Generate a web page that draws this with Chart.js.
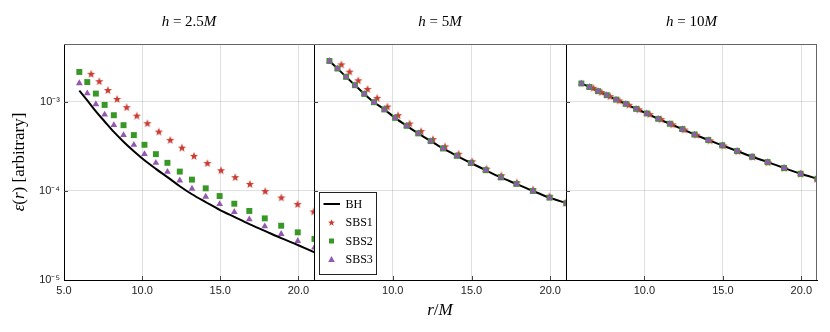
<!DOCTYPE html>
<html lang="en">
<head>
  <meta charset="UTF-8">
  <title>Energy flux vs r/M</title>
  <script src="https://cdn.jsdelivr.net/npm/chart.js"></script>
  <style>
    body { margin: 0; background: #fff; }
    #wrap { position: relative; width: 830px; height: 332px; }
    #wrap canvas { position: absolute; left: 0; top: 0; }
  </style>
</head>
<body>
<div id="wrap">
  <canvas id="p1" width="830" height="332"></canvas>
  <canvas id="p2" width="830" height="332"></canvas>
  <canvas id="p3" width="830" height="332"></canvas>
</div>
<script>
// tick values / labels
const xTicksFirst = [5, 10, 15, 20];
const xTicksRest = [10, 15, 20];
const yTicks = [1e-5, 1e-4, 1e-3];
const yTickLabels = ['10⁻⁵', '10⁻⁴', '10⁻³'];

// radii where BH / SBS2 / SBS3 points sit, and where SBS1 points sit
const rGrid = [5.98, 6.49, 7.04, 7.60, 8.19, 8.81, 9.47, 10.15, 10.88, 11.62, 12.41, 13.19, 14.07, 14.96, 15.90, 16.86, 17.85, 18.90, 19.96, 21.03];
const rStar = [6.74, 7.26, 7.81, 8.40, 9.01, 9.66, 10.34, 11.07, 11.80, 12.55, 13.32, 14.18, 15.05, 15.96, 16.90, 17.88, 18.91, 19.95, 20.98];

// h = 2.5M
const bh25 = [1.34e-3, 1.04e-3, 7.83e-4, 6.03e-4, 4.60e-4, 3.57e-4, 2.79e-4, 2.21e-4, 1.77e-4, 1.43e-4, 1.13e-4, 9.18e-5, 7.50e-5, 6.14e-5, 5.11e-5, 4.24e-5, 3.56e-5, 2.95e-5, 2.47e-5, 2.05e-5];
const sbs1_25 = [2.07e-3, 1.71e-3, 1.36e-3, 1.08e-3, 8.73e-4, 7.02e-4, 5.77e-4, 4.65e-4, 3.75e-4, 3.07e-4, 2.48e-4, 2.06e-4, 1.71e-4, 1.43e-4, 1.20e-4, 9.98e-5, 8.46e-5, 7.13e-5, 5.89e-5];
const sbs2_25 = [2.17e-3, 1.67e-3, 1.24e-3, 9.25e-4, 7.09e-4, 5.48e-4, 4.24e-4, 3.30e-4, 2.59e-4, 2.07e-4, 1.65e-4, 1.34e-4, 1.07e-4, 8.77e-5, 7.19e-5, 5.96e-5, 4.92e-5, 4.07e-5, 3.43e-5, 2.89e-5];
const sbs3_25 = [1.62e-3, 1.25e-3, 9.42e-4, 7.21e-4, 5.48e-4, 4.24e-4, 3.30e-4, 2.59e-4, 2.07e-4, 1.64e-4, 1.31e-4, 1.06e-4, 8.61e-5, 7.13e-5, 5.80e-5, 4.79e-5, 4.00e-5, 3.29e-5, 2.74e-5, 2.31e-5];

// h = 5M (BH, SBS2, SBS3 sit on top of each other)
const bh5 = [2.88e-3, 2.37e-3, 1.91e-3, 1.54e-3, 1.23e-3, 9.93e-4, 8.23e-4, 6.62e-4, 5.39e-4, 4.43e-4, 3.63e-4, 3.0e-4, 2.48e-4, 2.06e-4, 1.71e-4, 1.42e-4, 1.20e-4, 1.00e-4, 8.41e-5, 7.28e-5];
const sbs1_5 = [2.64e-3, 2.19e-3, 1.75e-3, 1.40e-3, 1.11e-3, 8.88e-4, 7.10e-4, 5.73e-4, 4.70e-4, 3.82e-4, 3.17e-4, 2.62e-4, 2.15e-4, 1.78e-4, 1.50e-4, 1.25e-4, 1.04e-4, 8.73e-5, 7.40e-5];
const sbs2_5 = [2.88e-3, 2.37e-3, 1.91e-3, 1.54e-3, 1.23e-3, 9.93e-4, 8.23e-4, 6.62e-4, 5.39e-4, 4.43e-4, 3.63e-4, 3.0e-4, 2.48e-4, 2.06e-4, 1.71e-4, 1.42e-4, 1.20e-4, 1.00e-4, 8.41e-5, 7.28e-5];
const sbs3_5 = [2.88e-3, 2.37e-3, 1.91e-3, 1.54e-3, 1.23e-3, 9.93e-4, 8.23e-4, 6.62e-4, 5.39e-4, 4.43e-4, 3.63e-4, 3.0e-4, 2.48e-4, 2.06e-4, 1.71e-4, 1.42e-4, 1.20e-4, 1.00e-4, 8.41e-5, 7.28e-5];

// h = 10M
const bh10 = [1.61e-3, 1.47e-3, 1.32e-3, 1.19e-3, 1.06e-3, 9.50e-4, 8.35e-4, 7.42e-4, 6.45e-4, 5.68e-4, 4.95e-4, 4.30e-4, 3.73e-4, 3.25e-4, 2.81e-4, 2.42e-4, 2.11e-4, 1.81e-4, 1.56e-4, 1.37e-4];
const sbs1_10 = [1.44e-3, 1.29e-3, 1.16e-3, 1.04e-3, 9.3e-4, 8.25e-4, 7.3e-4, 6.4e-4, 5.6e-4, 4.9e-4, 4.28e-4, 3.7e-4, 3.24e-4, 2.8e-4, 2.42e-4, 2.1e-4, 1.81e-4, 1.56e-4, 1.37e-4];
const sbs2_10 = [1.61e-3, 1.47e-3, 1.32e-3, 1.19e-3, 1.06e-3, 9.50e-4, 8.35e-4, 7.42e-4, 6.45e-4, 5.68e-4, 4.95e-4, 4.30e-4, 3.73e-4, 3.25e-4, 2.81e-4, 2.42e-4, 2.11e-4, 1.81e-4, 1.56e-4, 1.37e-4];
const sbs3_10 = [1.61e-3, 1.47e-3, 1.32e-3, 1.19e-3, 1.06e-3, 9.50e-4, 8.35e-4, 7.42e-4, 6.45e-4, 5.68e-4, 4.95e-4, 4.30e-4, 3.73e-4, 3.25e-4, 2.81e-4, 2.42e-4, 2.11e-4, 1.81e-4, 1.56e-4, 1.37e-4];

const RED = '#cb3c33', GREEN = '#389826', PURPLE = '#9558b2';
const GRID = 'rgba(0,0,0,0.12)';

function drawStar(ctx, cx, cy, R, r, color) {
  ctx.beginPath();
  for (let i = 0; i < 10; i++) {
    const a = -Math.PI / 2 + i * Math.PI / 5;
    const rad = i % 2 ? r : R;
    ctx.lineTo(cx + rad * Math.cos(a), cy + rad * Math.sin(a));
  }
  ctx.closePath();
  ctx.fillStyle = color;
  ctx.fill();
}

// filled five point star as a point image
const starImg = document.createElement('canvas');
starImg.width = 10; starImg.height = 10;
drawStar(starImg.getContext('2d'), 5, 5.4, 4.3, 1.85, RED);

function pts(xs, ys) {
  return xs.map((x, i) => ({ x: x, y: ys[i] }));
}

// math style text, parts = [[text, italic], ...]
function drawMath(ctx, parts, x, y, size, angle) {
  ctx.save();
  ctx.translate(x, y);
  ctx.rotate(angle || 0);
  const fonts = parts.map(p => (p[1] ? 'italic ' : '') + size + 'px "Liberation Serif"');
  let total = 0;
  parts.forEach((p, i) => { ctx.font = fonts[i]; total += ctx.measureText(p[0]).width; });
  let cx = -total / 2;
  ctx.fillStyle = '#000';
  ctx.textBaseline = 'middle';
  ctx.textAlign = 'left';
  parts.forEach((p, i) => {
    ctx.font = fonts[i];
    ctx.fillText(p[0], cx, 0);
    cx += ctx.measureText(p[0]).width;
  });
  ctx.restore();
}

const framePlugin = {
  id: 'frame',
  afterDraw(chart, args, opts) {
    const ctx = chart.ctx, ca = chart.chartArea;
    ctx.save();
    ctx.strokeStyle = '#666';
    ctx.lineWidth = 1;
    ctx.beginPath();
    ctx.moveTo(ca.left, ca.top + 0.5);
    ctx.lineTo(ca.right, ca.top + 0.5);
    if (opts.right) {
      ctx.moveTo(ca.right - 0.5, ca.top);
      ctx.lineTo(ca.right - 0.5, ca.bottom);
    }
    ctx.stroke();
    // small inward ticks
    ctx.strokeStyle = '#444';
    ctx.beginPath();
    chart.scales.x.ticks.forEach(t => {
      const px = Math.round(chart.scales.x.getPixelForValue(t.value)) + 0.5;
      if (px <= ca.left + 1 || px >= ca.right - 1) return;
      ctx.moveTo(px, ca.bottom);
      ctx.lineTo(px, ca.bottom - 4);
    });
    chart.scales.y.ticks.forEach(t => {
      const py = Math.round(chart.scales.y.getPixelForValue(t.value)) + 0.5;
      if (py >= ca.bottom - 1) return;
      ctx.moveTo(ca.left, py);
      ctx.lineTo(ca.left + 4, py);
    });
    ctx.stroke();
    ctx.restore();

    // titles and axis labels
    const c = chart.ctx;
    if (opts.title) drawMath(c, opts.title, (ca.left + ca.right) / 2, 22, 15, 0);
    if (opts.xLabel) drawMath(c, opts.xLabel, (ca.left + ca.right) / 2, 311, 17, 0);
    if (opts.yLabel) drawMath(c, opts.yLabel, 20, (ca.top + ca.bottom) / 2, 17, -Math.PI / 2);
  }
};

const legendPlugin = {
  id: 'insetLegend',
  afterDraw(chart, args, opts) {
    if (!opts.show) return;
    const ctx = chart.ctx, ca = chart.chartArea;
    const x0 = ca.left + 5, y0 = ca.bottom - 88, w = 58, h = 83;
    ctx.save();
    ctx.fillStyle = '#fff';
    ctx.fillRect(x0, y0, w, h);
    ctx.strokeStyle = '#222';
    ctx.lineWidth = 1;
    ctx.strokeRect(x0 + 0.5, y0 + 0.5, w - 1, h - 1);
    ctx.font = '12px "Liberation Serif"';
    ctx.textBaseline = 'middle';
    chart.data.datasets.forEach((ds, i) => {
      const cy = y0 + 12 + i * 18.5, cx = x0 + 12.5;
      if (ds.showLine) {
        ctx.strokeStyle = ds.borderColor;
        ctx.lineWidth = 2;
        ctx.beginPath();
        ctx.moveTo(x0 + 4.5, cy);
        ctx.lineTo(x0 + 21, cy);
        ctx.stroke();
      } else if (ds.pointStyle === 'rect') {
        ctx.fillStyle = ds.backgroundColor;
        ctx.fillRect(cx - 2.5, cy - 2.5, 5, 5);
      } else if (ds.pointStyle === 'triangle') {
        ctx.fillStyle = ds.backgroundColor;
        ctx.beginPath();
        ctx.moveTo(cx, cy - 3.5);
        ctx.lineTo(cx + 3.3, cy + 2.5);
        ctx.lineTo(cx - 3.3, cy + 2.5);
        ctx.closePath();
        ctx.fill();
      } else {
        drawStar(ctx, cx, cy + 0.3, 3.6, 1.5, RED);
      }
      ctx.fillStyle = '#000';
      ctx.fillText(ds.label, x0 + 26.5, cy + 0.5);
    });
    ctx.restore();
  }
};

function makeDatasets(bh, s1, s2, s3) {
  return [
    { label: 'BH', data: pts(rGrid, bh), showLine: true, borderColor: '#000', borderWidth: 2,
      pointRadius: 0, cubicInterpolationMode: 'monotone', clip: 0, order: 4 },
    { label: 'SBS1', data: pts(rStar, s1), pointStyle: starImg, pointRadius: 5,
      backgroundColor: RED, borderColor: RED, pointBorderWidth: 0, clip: 0, order: 3 },
    { label: 'SBS2', data: pts(rGrid, s2), pointStyle: 'rect', pointRadius: 4.2,
      backgroundColor: GREEN, borderColor: GREEN, pointBorderWidth: 0, clip: 0, order: 2 },
    { label: 'SBS3', data: pts(rGrid, s3), pointStyle: 'triangle', pointRadius: 3.9,
      backgroundColor: PURPLE, borderColor: PURPLE, pointBorderWidth: 0, clip: 0, order: 1 }
  ];
}

function makePanel(id, padLeft, padRight, xTicks, showY, datasets, extra) {
  return new Chart(document.getElementById(id), {
    type: 'scatter',
    data: { datasets: datasets },
    options: {
      responsive: false,
      animation: false,
      events: [],
      layout: { padding: { left: padLeft, right: padRight, top: 44, bottom: 0 } },
      plugins: {
        legend: { display: false },
        tooltip: { enabled: false },
        frame: extra.frame,
        insetLegend: { show: !!extra.legend }
      },
      scales: {
        x: {
          type: 'linear', min: 5, max: 21,
          afterBuildTicks: s => { s.ticks = xTicks.map(v => ({ value: v })); },
          afterFit: s => { s.height = 52; },
          grid: { color: GRID, drawTicks: false },
          border: { color: '#000', width: 1 },
          ticks: {
            padding: 4, maxRotation: 0, autoSkip: false, color: '#222',
            font: { family: 'Liberation Sans', size: 11 },
            callback: v => v.toFixed(1)
          }
        },
        y: {
          type: 'logarithmic', min: 1e-5, max: 4.47e-3,
          afterBuildTicks: s => { s.ticks = yTicks.map(v => ({ value: v })); },
          afterFit: s => { s.width = showY ? 64 : 0; },
          grid: { color: GRID, drawTicks: false },
          border: { color: '#000', width: 1 },
          ticks: {
            display: showY, padding: 4, color: '#222',
            font: { family: 'Liberation Sans', size: 11 },
            callback: v => yTickLabels[yTicks.indexOf(v)]
          }
        }
      }
    },
    plugins: [framePlugin, legendPlugin]
  });
}

makePanel('p1', 0, 830 - 314, xTicksFirst, true,
  makeDatasets(bh25, sbs1_25, sbs2_25, sbs3_25),
  { frame: { title: [['h', true], [' = 2.5', false], ['M', true]],
             yLabel: [['ε', true], ['(', false], ['r', true], [') [arbitrary]', false]] } });

makePanel('p2', 314, 830 - 566, xTicksRest, false,
  makeDatasets(bh5, sbs1_5, sbs2_5, sbs3_5),
  { legend: true,
    frame: { title: [['h', true], [' = 5', false], ['M', true]],
             xLabel: [['r', true], ['/', false], ['M', true]] } });

makePanel('p3', 566, 830 - 817, xTicksRest, false,
  makeDatasets(bh10, sbs1_10, sbs2_10, sbs3_10),
  { frame: { right: true, title: [['h', true], [' = 10', false], ['M', true]] } });
</script>
</body>
</html>
